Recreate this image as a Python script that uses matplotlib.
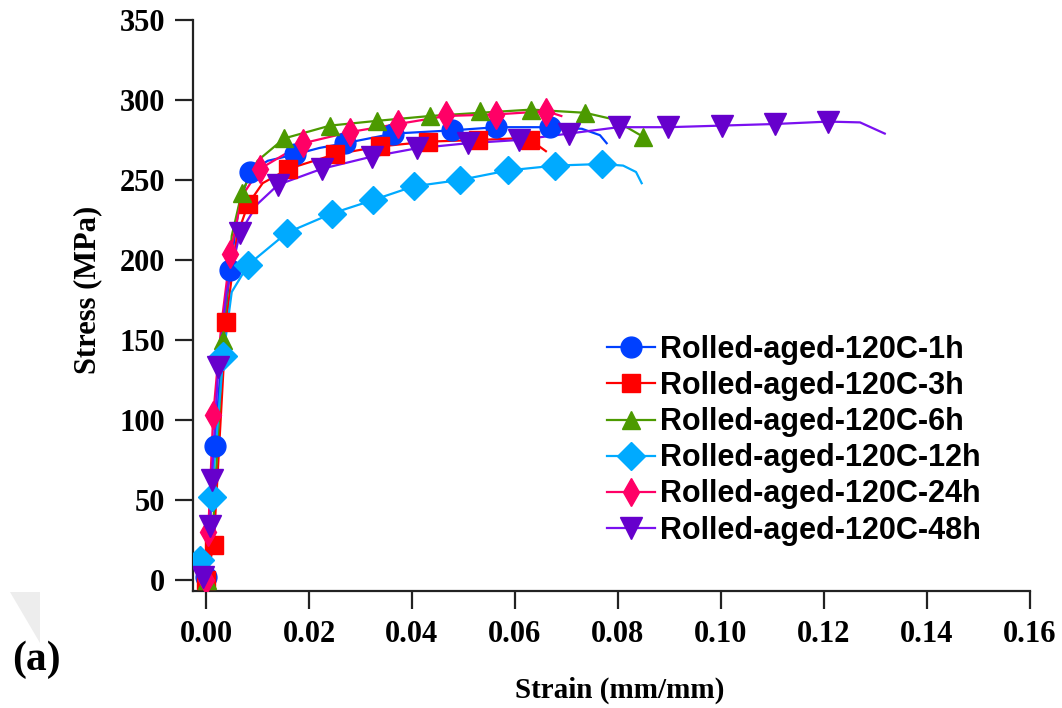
import matplotlib
matplotlib.use("Agg")
import matplotlib.pyplot as plt
from matplotlib.lines import Line2D
from matplotlib.patches import Polygon

# ---------------- data (strain mm/mm, stress MPa) ----------------
labels = ["Rolled-aged-120C-1h", "Rolled-aged-120C-3h", "Rolled-aged-120C-6h",
          "Rolled-aged-120C-12h", "Rolled-aged-120C-24h", "Rolled-aged-120C-48h"]

# 1h
line_x_1h = [0, 0.0005, 0.00175, 0.003, 0.00466, 0.0065, 0.0085, 0.012, 0.0173, 0.022,
             0.027, 0.0364, 0.0477, 0.0564, 0.0668, 0.073, 0.0765, 0.0778]
line_y_1h = [0, 25, 84, 140, 194, 235, 255, 262, 266, 270, 273, 279, 281, 283, 283, 282, 278, 273]
mark_x_1h = [0.0001, 0.00175, 0.00466, 0.0085, 0.0173, 0.027, 0.0364, 0.0477, 0.0564, 0.0668]
mark_y_1h = [2, 84, 194, 255, 266, 273, 279, 281, 283, 283]

# 3h
line_x_3h = [0, 0.0015, 0.0039, 0.006, 0.0082, 0.011, 0.016, 0.025, 0.0338, 0.0432, 0.0529,
             0.06, 0.063, 0.066]
line_y_3h = [0, 22, 161, 215, 235, 248, 257, 266, 271, 274, 275, 276, 275, 268]
mark_x_3h = [0, 0.0015, 0.0039, 0.0082, 0.016, 0.025, 0.0338, 0.0432, 0.0529, 0.063]
mark_y_3h = [0, 22, 161, 235, 257, 266, 271, 274, 275, 275]

# 6h
line_x_6h = [0, 0.0015, 0.00336, 0.005, 0.00693, 0.01, 0.0152, 0.0241, 0.0333, 0.0435,
             0.0532, 0.0632, 0.0736, 0.079, 0.0849]
line_y_6h = [0, 40, 150, 215, 242, 262, 276, 284, 287, 290, 292, 294, 292, 288, 277]
mark_x_6h = [0.0002, 0.00336, 0.00693, 0.0152, 0.0241, 0.0333, 0.0435, 0.0532, 0.0632,
             0.0736, 0.0849]
mark_y_6h = [0, 150, 242, 276, 284, 287, 290, 293, 294, 292, 277]

# 12h
line_x_12h = [0, 0.0011, 0.00336, 0.005, 0.0082, 0.0157, 0.0244, 0.0325, 0.0403, 0.0493,
              0.0587, 0.0678, 0.0768, 0.081, 0.0835, 0.0846]
line_y_12h = [0, 52, 140, 180, 197, 217, 229, 237.5, 246, 250, 256, 259, 260, 259, 255, 248]
mark_x_12h = [-0.0012, 0.0011, 0.00336, 0.0082, 0.0157, 0.0244, 0.0325, 0.0403, 0.0493,
              0.0587, 0.0678, 0.0768]
mark_y_12h = [12.5, 52, 140, 197, 217, 229, 237.5, 246, 250, 256, 259, 260]

# 24h
line_x_24h = [0, 0.0005, 0.0014, 0.003, 0.0047, 0.007, 0.0105, 0.0189, 0.028, 0.0373,
              0.0467, 0.0564, 0.0661, 0.069]
line_y_24h = [0, 35, 103, 160, 204, 240, 257, 273, 280, 285, 290, 291, 293, 290]
mark_x_24h = [0.0001, 0.0004, 0.0014, 0.0047, 0.0105, 0.0189, 0.028, 0.0373, 0.0467,
              0.0564, 0.0661]
mark_y_24h = [0, 30, 103, 204, 257, 273, 280, 285, 290.6, 290.6, 292.7]

# 48h
line_x_48h = [0, 0.0008, 0.0011, 0.0024, 0.004, 0.0066, 0.01, 0.014, 0.0225, 0.0322,
              0.0409, 0.0509, 0.0607, 0.0704, 0.0801, 0.0898, 0.1001, 0.1105, 0.1208,
              0.127, 0.1318]
line_y_48h = [0, 34, 62.5, 133, 180, 217, 235, 247, 257, 264.6, 269.8, 273, 275, 279,
              283, 283, 284, 285, 286.5, 286, 279]
mark_x_48h = [-0.0005, 0.0008, 0.0011, 0.0024, 0.0066, 0.014, 0.0225, 0.0322, 0.0409,
              0.0509, 0.0607, 0.0704, 0.0801, 0.0898, 0.1001, 0.1105, 0.1208]
mark_y_48h = [2, 34, 62.5, 133, 216.7, 247, 257, 264.6, 269.8, 273, 275, 279, 283, 283,
              284, 285, 286.5]

x_ticks = [0.00, 0.02, 0.04, 0.06, 0.08, 0.10, 0.12, 0.14, 0.16]
y_ticks = [0, 50, 100, 150, 200, 250, 300, 350]

# ---------------- styles ----------------
series = [
    (line_x_1h, line_y_1h, mark_x_1h, mark_y_1h, "#0040FF", "#0040FF", "o", 15),
    (line_x_3h, line_y_3h, mark_x_3h, mark_y_3h, "#FF0000", "#FF0000", "s", 13),
    (line_x_6h, line_y_6h, mark_x_6h, mark_y_6h, "#4C9A00", "#4C9A00", "^", 13),
    (line_x_12h, line_y_12h, mark_x_12h, mark_y_12h, "#00AAFF", "#00AAFF", "D", 14),
    (line_x_24h, line_y_24h, mark_x_24h, mark_y_24h, "#FF0066", "#FF0066", "d", 14),
    (line_x_48h, line_y_48h, mark_x_48h, mark_y_48h, "#7A10F0", "#6600CC", "v", 16),
]

fig = plt.figure(figsize=(10.62, 7.08), dpi=100)
ax = fig.add_axes([193 / 1062, (708 - 590.7) / 708, 837 / 1062, (590.7 - 20) / 708])

handles = []
for lx, ly, mx, my, lc, mc, mk, ms in series:
    ax.plot(lx, ly, color=lc, lw=1.6, zorder=2)
    ax.plot(mx, my, ls="none", marker=mk, ms=ms, color=mc, mec=mc, zorder=3)
    handles.append(Line2D([], [], color=lc, lw=1.6, marker=mk, ms=ms, mfc=mc, mec=mc))

ax.set_xlim(-0.00252, 0.16)
ax.set_ylim(-6.7, 350)
ax.set_xticks(x_ticks)
ax.set_xticklabels([f"{v:.2f}" for v in x_ticks])
ax.set_yticks(y_ticks)
ax.set_yticklabels([str(v) for v in y_ticks])

for s in ["top", "right"]:
    ax.spines[s].set_visible(False)
for s in ["left", "bottom"]:
    ax.spines[s].set_linewidth(1.6)
    ax.spines[s].set_color("#222222")

ax.tick_params(axis="both", direction="out", length=13, width=1.6, color="#222222")
ax.tick_params(axis="x", pad=8)
ax.tick_params(axis="y", pad=7)
for lab in ax.get_xticklabels() + ax.get_yticklabels():
    lab.set_fontfamily("Liberation Serif")
    lab.set_fontweight("bold")
    lab.set_fontsize(22)

fig.text(88 / 1062, 1 - 290 / 708, "Stress (MPa)", rotation=90, ha="center", va="center",
         family="Liberation Serif", weight="bold", fontsize=22)
fig.text(620 / 1062, 1 - 690 / 708, "Strain (mm/mm)", ha="center", va="center",
         family="Liberation Serif", weight="bold", fontsize=21)
fig.text(36 / 1062, 1 - 660 / 708, "(a)", ha="center", va="center",
         family="Liberation Serif", weight="bold", fontsize=30)

# faint gray corner artifact
fig.patches.append(Polygon([[10 / 1062, 1 - 592 / 708], [40 / 1062, 1 - 592 / 708],
                            [40 / 1062, 1 - 643 / 708]], closed=True,
                           transform=fig.transFigure, facecolor="#EDEDED",
                           edgecolor="none", figure=fig))

leg = fig.legend(handles, labels, loc="upper left",
                 bbox_to_anchor=(607 / 1062, 1 - 335 / 708),
                 frameon=False, borderpad=0, borderaxespad=0,
                 handlelength=1.57, handletextpad=0.16, labelspacing=0.2,
                 prop={"family": "Liberation Sans", "weight": "bold", "size": 22})

fig.savefig("out.png", dpi=100)
